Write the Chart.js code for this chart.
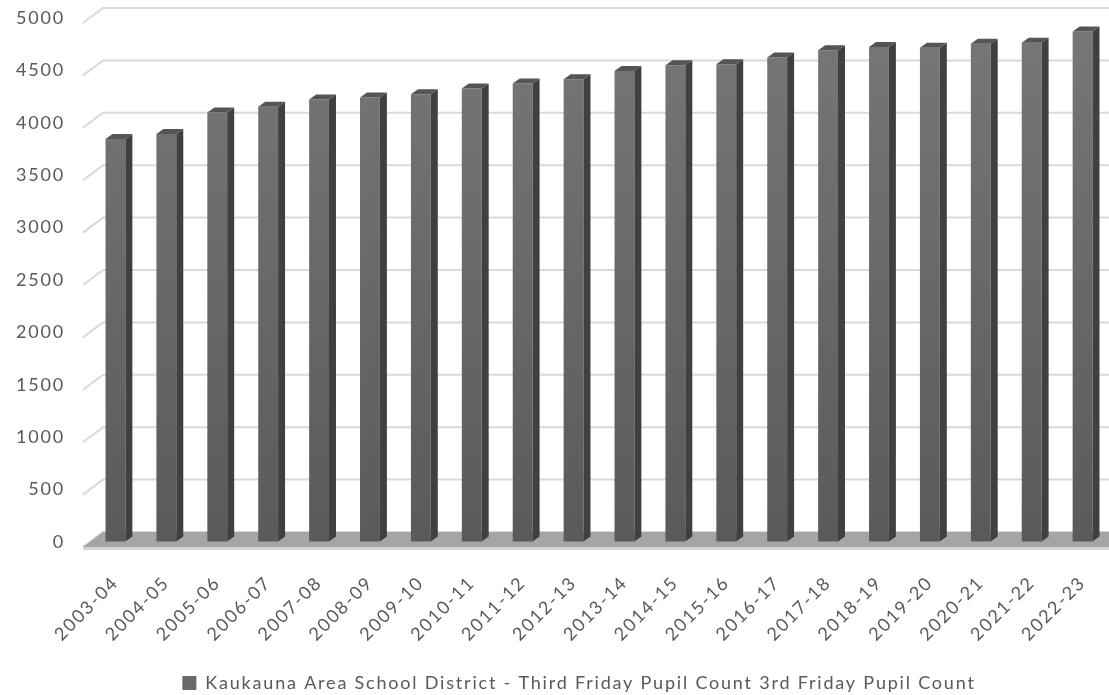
<!DOCTYPE html>
<html>
<head>
<meta charset="utf-8">
<script src="https://cdn.jsdelivr.net/npm/chart.js@4.4.1/dist/chart.umd.min.js"></script>
<style>
  html, body { margin: 0; padding: 0; background: #fff; overflow: hidden; }
  #wrap { width: 1109px; height: 695px; overflow: hidden; }
  #box { width: 1120px; height: 695px; }
</style>
</head>
<body>
<div id="wrap"><div id="box"><canvas id="chartCanvas"></canvas></div></div>
<script>
// Données
var saisons = ['2003-04', '2004-05', '2005-06', '2006-07', '2007-08', '2008-09', '2009-10',
  '2010-11', '2011-12', '2012-13', '2013-14', '2014-15', '2015-16', '2016-17', '2017-18',
  '2018-19', '2019-20', '2020-21', '2021-22', '2022-23'];
var effectifs = [3845, 3892, 4098, 4152, 4222, 4241, 4273, 4327, 4375, 4416,
  4495, 4549, 4559, 4622, 4692, 4724, 4717, 4755, 4765, 4870];
var serieNom = 'Kaukauna Area School District - Third Friday Pupil Count 3rd Friday Pupil Count';
var yMin = 0, yMax = 5000, yPas = 500;

var police = 'Lato, "Open Sans", sans-serif';
var gris = '#595959';
var espacement = '1.8px';
// décalage de profondeur (effet 3D)
var prof = { dx: 7, dy: -5 };   // épaisseur des barres
var mur = { dx: 13, dy: -10 };  // mur du fond par rapport à la face des barres
var avant = { dx: -7, dy: 5 };  // bord avant du sol

// Plugin : espacement des lettres + position de la légende
var texte = {
  id: 'texte',
  beforeUpdate: function (chart) { chart.ctx.letterSpacing = espacement; },
  beforeDraw: function (chart) { chart.ctx.letterSpacing = espacement; },
  afterLayout: function (chart) {
    var lg = chart.legend;
    lg.left += 22; lg.right += 22;
    lg.top += 7; lg.bottom += 7;
  }
};

// Plugin : mur du fond, sol et faces latérales des barres
var effet3D = {
  id: 'effet3D',
  beforeDatasetsDraw: function (chart) {
    var ctx = chart.ctx, a = chart.chartArea, y = chart.scales.y;
    ctx.save();
    ctx.strokeStyle = '#d9d9d9';
    ctx.lineWidth = 2;
    y.ticks.forEach(function (t) {
      var py = y.getPixelForValue(t.value);
      ctx.beginPath();
      ctx.moveTo(a.left + avant.dx, py + avant.dy);
      ctx.lineTo(a.left + mur.dx, py + mur.dy);
      ctx.lineTo(a.right + 20, py + mur.dy);
      ctx.stroke();
    });
    // sol
    var y0 = y.getPixelForValue(0);
    ctx.fillStyle = '#a5a5a5';
    ctx.beginPath();
    ctx.moveTo(a.left + avant.dx, y0 + avant.dy);
    ctx.lineTo(a.left + mur.dx, y0 + mur.dy);
    ctx.lineTo(a.right + 20, y0 + mur.dy);
    ctx.lineTo(a.right + 20, y0 + avant.dy);
    ctx.closePath();
    ctx.fill();
    ctx.fillStyle = '#d4d4d4';
    ctx.fillRect(a.left + avant.dx, y0 + avant.dy, a.right - a.left + 30, 3);
    ctx.restore();
  },
  afterDatasetsDraw: function (chart) {
    var ctx = chart.ctx;
    ctx.save();
    chart.getDatasetMeta(0).data.forEach(function (bar) {
      var g = bar.x - bar.width / 2, d = bar.x + bar.width / 2;
      // face latérale
      ctx.fillStyle = '#404040';
      ctx.beginPath();
      ctx.moveTo(d, bar.y);
      ctx.lineTo(d + prof.dx, bar.y + prof.dy);
      ctx.lineTo(d + prof.dx, bar.base + prof.dy);
      ctx.lineTo(d, bar.base);
      ctx.closePath();
      ctx.fill();
      // dessus
      ctx.fillStyle = '#555555';
      ctx.beginPath();
      ctx.moveTo(g, bar.y);
      ctx.lineTo(g + prof.dx, bar.y + prof.dy);
      ctx.lineTo(d + prof.dx, bar.y + prof.dy);
      ctx.lineTo(d, bar.y);
      ctx.closePath();
      ctx.fill();
    });
    ctx.restore();
  }
};

var canvas = document.getElementById('chartCanvas');
var chart = new Chart(canvas, {
  type: 'bar',
  data: {
    labels: saisons,
    datasets: [{
      label: serieNom,
      data: effectifs,
      backgroundColor: function (c) {
        var a = c.chart.chartArea;
        if (!a) return '#6a6a6a';
        var grad = c.chart.ctx.createLinearGradient(0, a.top, 0, a.bottom);
        grad.addColorStop(0, '#777777');
        grad.addColorStop(1, '#5a5a5a');
        return grad;
      },
      borderWidth: 0,
      categoryPercentage: 1,
      barPercentage: 0.39
    }]
  },
  options: {
    responsive: true,
    maintainAspectRatio: false,
    animation: false,
    layout: { padding: { left: 0, right: 6, top: 18, bottom: 0 } },
    plugins: {
      legend: {
        position: 'bottom',
        labels: {
          color: gris,
          font: { family: police, size: 18 },
          boxWidth: 14,
          boxHeight: 14,
          padding: 4,
          generateLabels: function (ch) {
            return [{ text: serieNom, fillStyle: '#6a6a6a', strokeStyle: '#6a6a6a', lineWidth: 0, fontColor: gris, datasetIndex: 0 }];
          }
        }
      },
      tooltip: { enabled: false }
    },
    scales: {
      y: {
        min: yMin,
        max: yMax,
        ticks: { stepSize: yPas, color: gris, font: { family: police, size: 18 }, padding: 2,
          callback: function (v) { return String(v); } },
        grid: { display: true, drawOnChartArea: false, drawTicks: true, tickLength: 23, color: 'rgba(0,0,0,0)' },
        border: { display: false },
        afterFit: function (s) { s.width = 90; }
      },
      x: {
        ticks: { color: gris, font: { family: police, size: 18 }, maxRotation: 45, minRotation: 45, padding: 22, autoSkip: false },
        grid: { display: false },
        border: { display: false },
        afterFit: function (s) { s.height = 121; }
      }
    }
  },
  plugins: [texte, effet3D]
});
</script>
</body>
</html>
